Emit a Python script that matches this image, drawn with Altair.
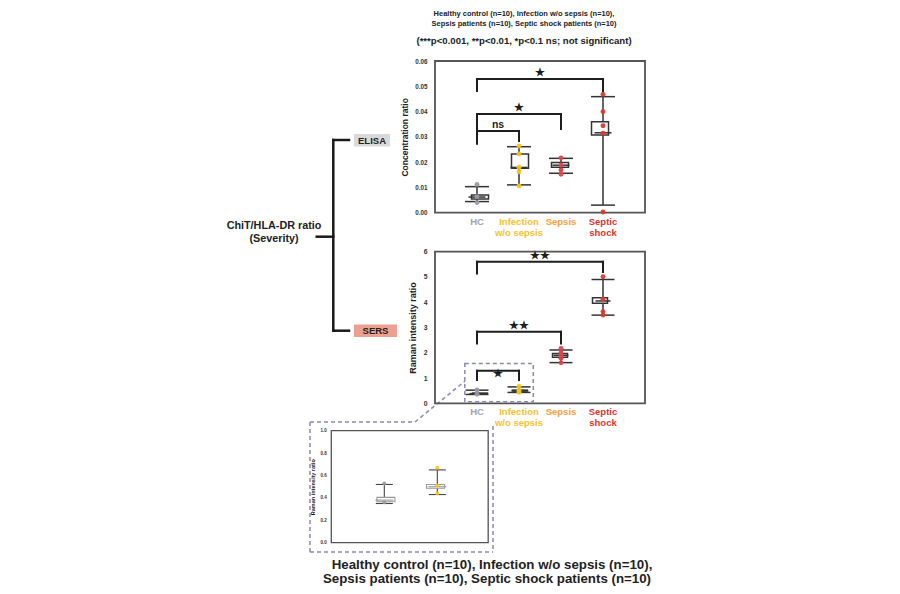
import altair as alt
import pandas as pd

FONT = "Liberation Sans"

# ---------------- data ----------------
groups = ["HC", "Infection w/o sepsis", "Sepsis", "Septic shock"]
group_lines = ["HC", "Infection\nw/o sepsis", "Sepsis", "Septic\nshock"]
label_colors = ["#a2a2aa", "#f6c22e", "#f3a03c", "#d5372f"]
point_colors = ["#9a9aa2", "#f7c21a", "#e0454c", "#d93a33"]

# ELISA: concentration ratio
elisa_low = [0.0044, 0.0110, 0.0156, 0.0030]
elisa_q1 = [0.0054, 0.0176, 0.0180, 0.0307]
elisa_med = [0.0062, 0.0179, 0.0188, 0.0316]
elisa_q3 = [0.0070, 0.0232, 0.0199, 0.0360]
elisa_high = [0.0103, 0.0261, 0.0215, 0.0459]
elisa_points = [
    [0.0112, 0.0063, 0.0040],
    [0.0264, 0.0232, 0.0180, 0.0162, 0.0106],
    [0.0217, 0.0189, 0.0169, 0.0152],
    [0.0468, 0.0399, 0.0344, 0.0314, 0.0003],
]
elisa_ticks = [0, 0.01, 0.02, 0.03, 0.04, 0.05, 0.06]
# (from group, to group, bracket top, left leg end, right leg end, label)
elisa_brackets = [
    (0, 3, 0.0529, 0.0481, 0.0480, "★"),
    (0, 2, 0.0390, 0.0274, 0.0331, "★"),
    (0, 1, 0.0323, 0.0274, 0.0284, "ns"),
]

# SERS: Raman intensity ratio
sers_low = [0.35, 0.43, 1.61, 3.49]
sers_q1 = [0.366, 0.486, 1.82, 3.96]
sers_med = [0.38, 0.50, 1.90, 4.05]
sers_q3 = [0.405, 0.52, 1.97, 4.18]
sers_high = [0.52, 0.65, 2.11, 4.90]
sers_points = [
    [0.53, 0.36],
    [0.67, 0.51, 0.44],
    [2.17, 2.00, 1.91, 1.78, 1.60],
    [5.01, 4.12, 3.63, 3.49],
]
sers_ticks = [0, 1, 2, 3, 4, 5, 6]
sers_brackets = [
    (0, 3, 5.60, 5.14, 5.20, "★★"),
    (0, 2, 2.83, 2.37, 2.37, "★★"),
    (0, 1, 1.29, 0.92, 0.92, "★"),
]
inset_ticks = [0, 0.2, 0.4, 0.6, 0.8, 1.0]
zoom_box = [-0.29, 1.34, 0.06, 1.58]  # x0, x1, y0, y1 in SERS data units

title_lines = [
    "Healthy control (n=10), Infection w/o sepsis (n=10),",
    "Sepsis patients (n=10), Septic shock patients (n=10)",
    "(***p<0.001, **p<0.01, *p<0.1 ns; not significant)",
]
tree_lines = ["ChiT/HLA-DR ratio", "(Severity)"]

dummy = pd.DataFrame({"k": [0]})


def px(v):
    return v - 8  # page pixel -> plot pixel


def seg(x1, y1, x2, y2, color="#1a1a1a", width=2.5, dash=None):
    kw = dict(color=color, strokeWidth=width, strokeCap="square")
    if dash:
        kw["strokeDash"] = dash
        kw["strokeCap"] = "butt"
    return alt.Chart(dummy).mark_rule(**kw).encode(
        x=alt.value(px(x1)), y=alt.value(px(y1)), x2=alt.value(px(x2)), y2=alt.value(px(y2))
    )


def txt(text, x, y, size, color="#222", weight="bold"):
    return alt.Chart(dummy).mark_text(
        text=text, x=px(x), y=px(y), fontSize=size, fontWeight=weight, font=FONT,
        color=color, align="center", baseline="middle"
    )


def patch(x1, y1, x2, y2, fill):
    return alt.Chart(dummy).mark_rect(color=fill).encode(
        x=alt.value(px(x1)), x2=alt.value(px(x2)), y=alt.value(px(y1)), y2=alt.value(px(y2))
    )


def panel(low, q1, med, q3, high, points, n, brackets, below, x_dom, x_rng, y_dom, y_rng,
          ticks, fmt, title, st, cat_labels=True, extra=None):
    xs = alt.Scale(domain=x_dom, range=[px(v) for v in x_rng])
    ys = alt.Scale(domain=y_dom, range=[px(v) for v in y_rng])

    def X(f):
        return alt.X(f"{f}:Q", scale=xs, axis=None)

    def Y(f):
        return alt.Y(f"{f}:Q", scale=ys, axis=None)

    idx = list(range(n))
    box = pd.DataFrame({"i": idx, "low": low[:n], "q1": q1[:n], "med": med[:n],
                        "q3": q3[:n], "high": high[:n]})
    caps = pd.DataFrame({"i": idx * 2, "v": list(low[:n]) + list(high[:n])})
    pts = pd.DataFrame([{"i": i, "v": v, "c": point_colors[i]} for i in idx for v in points[i]])
    frame_df = pd.DataFrame({"x0": [x_dom[0]], "x1": [x_dom[1]], "y0": [y_dom[0]], "y1": [y_dom[1]]})

    axis = alt.Axis(
        orient="left", offset=-px(x_rng[0]), values=ticks, format=fmt, title=title,
        labelFont=FONT, labelFontSize=st["lab"], labelFontWeight="bold", labelColor="#333",
        labelPadding=st["lpad"], titleFont=FONT, titleFontSize=st["tit"],
        titleFontWeight="bold", titleColor="#222", titlePadding=st["tpad"],
        ticks=False, domain=False, grid=False, labelOverlap=False,
    )
    layers = [
        alt.Chart(frame_df).mark_rect(fill="transparent", stroke=st["frame"],
                                      strokeWidth=st["fw"]).encode(
            x=X("x0"), x2="x1", y=alt.Y("y0:Q", scale=ys, axis=axis), y2="y1"),
        alt.Chart(box).mark_rule(color=st["line"], strokeWidth=st["lw"]).encode(
            x=X("i"), y=Y("low"), y2="high"),
        alt.Chart(caps).mark_tick(orient="horizontal", size=st["cap"], thickness=st["lw"],
                                  color=st["line"], opacity=1).encode(x=X("i"), y=Y("v")),
        alt.Chart(box).mark_bar(size=st["box"], fill="white", stroke=st["bstroke"],
                                strokeWidth=st["lw"]).encode(x=X("i"), y=Y("q1"), y2="q3"),
        alt.Chart(box).mark_tick(orient="horizontal", size=st["box"], thickness=st["lw"],
                                 color=st["bstroke"], opacity=1).encode(x=X("i"), y=Y("med")),
        alt.Chart(pts).mark_circle(size=st["pt"], opacity=0.95).encode(
            x=X("i"), y=Y("v"), color=alt.Color("c:N", scale=None)),
    ]
    if brackets:
        segs, labs = [], []
        for k, (a, b, top, le, re, lab) in enumerate(brackets):
            segs += [(a, b, top, top), (a, a, le, top), (b, b, re, top)]
            labs.append({"k": k, "x": (a + b) / 2, "y": top, "t": lab})
        seg_df = pd.DataFrame(segs, columns=["x0", "x1", "y0", "y1"])
        lab_df = pd.DataFrame(labs)
        layers.append(alt.Chart(seg_df).mark_rule(color="#1e1e1e", strokeWidth=2,
                                                  strokeCap="square").encode(
            x=X("x0"), x2="x1", y=Y("y0"), y2="y1"))
        layers.append(alt.Chart(lab_df).transform_filter(f"datum.k != {below}").mark_text(
            font=FONT, fontWeight="bold", fontSize=st["star"], color="#1e1e1e",
            baseline="alphabetic", dy=-3).encode(x=X("x"), y=Y("y"), text="t:N"))
        layers.append(alt.Chart(lab_df).transform_filter(f"datum.k == {below}").mark_text(
            font=FONT, fontWeight="bold", fontSize=st["star"], color="#1e1e1e",
            baseline="alphabetic", dy=6).encode(x=X("x"), y=Y("y"), text="t:N"))
    if cat_labels:
        cat = pd.DataFrame({"i": idx, "t": group_lines[:n], "c": label_colors[:n], "z": [0] * n})
        layers.append(alt.Chart(cat).mark_text(
            font=FONT, fontWeight="bold", fontSize=9.5, baseline="top", dy=4,
            lineBreak="\n", lineHeight=11).encode(
            x=X("i"), y=Y("z"), text="t:N", color=alt.Color("c:N", scale=None)))
    if extra is not None:
        zb = pd.DataFrame({"x0": [extra[0]], "x1": [extra[1]], "y0": [extra[2]], "y1": [extra[3]]})
        layers.append(alt.Chart(zb).mark_rect(fill="transparent", stroke="#8a8aae",
                                              strokeWidth=1.5, strokeDash=[4, 3]).encode(
            x=X("x0"), x2="x1", y=Y("y0"), y2="y1"))
    return layers


main_style = dict(lab=6.3, lpad=8, tit=8.5, tpad=5, frame="#555", fw=1.8, line="#333",
                  bstroke="#333", lw=1.5, cap=24, box=17, pt=24, star=10.5)
sers_style = dict(main_style, lab=6.8, tit=9, tpad=6, box=15, cap=23)
inset_style = dict(lab=4.5, lpad=5, tit=5.5, tpad=5, frame="#555", fw=1.3, line="#444",
                   bstroke="#999", lw=1.1, cap=17, box=18, pt=14, star=9)

elisa = panel(elisa_low, elisa_q1, elisa_med, elisa_q3, elisa_high, elisa_points, 4,
              elisa_brackets, -1, [-1, 4], [435, 645], [0, 0.06], [212.7, 61],
              elisa_ticks, ".2f", "Concentration ratio", main_style)
sers = panel(sers_low, sers_q1, sers_med, sers_q3, sers_high, sers_points, 4,
             sers_brackets, 2, [-1, 4], [435, 645], [0, 6], [403.3, 251.7],
             sers_ticks, "d", "Raman intensity ratio", sers_style, extra=zoom_box)
inset = panel(sers_low, sers_q1, sers_med, sers_q3, sers_high, sers_points, 2,
              None, -1, [-1, 1.96], [331.3, 488.2], [0, 1], [542.7, 430.7],
              inset_ticks, ".1f", "Raman intensity ratio", inset_style, cat_labels=False)

dash = [4, 3]
dcol = "#8a8aae"
decor = [
    # tree
    seg(316.7, 236.7, 333.3, 236.7),
    seg(333.3, 140, 333.3, 330.7),
    seg(333.3, 140, 349, 140),
    seg(333.3, 330.7, 349, 330.7),
    patch(354, 134, 390, 146.5, "#d9d9d9"),
    patch(354, 324.5, 397, 337, "#eda08f"),
    txt("ELISA", 372, 140.5, 9.5),
    txt("SERS", 375.5, 331, 9.5),
    txt(tree_lines[0], 274, 226, 10.8),
    txt(tree_lines[1], 274, 239, 10.8),
    # titles
    txt(title_lines[0], 524, 14, 7.5),
    txt(title_lines[1], 524, 24, 7.5),
    txt(title_lines[2], 524, 41, 9.6),
    txt(title_lines[0], 492, 565, 13.3),
    txt(title_lines[1], 487, 579, 13.3),
    # dashed inset outline and connector
    seg(310, 422, 310, 552, dcol, 1.5, dash),
    seg(310, 552, 493, 552, dcol, 1.5, dash),
    seg(493, 426, 493, 552, dcol, 1.5, dash),
    seg(310, 422, 415, 422, dcol, 1.5, dash),
    seg(415, 422, 465, 381, dcol, 1.5, dash),
]

chart = alt.layer(*decor, *elisa, *sers, *inset).resolve_scale(
    x="independent", y="independent"
).properties(
    width=884, height=578, autosize=alt.AutoSizeParams(type="none"), padding=0
).configure_view(stroke=None)

chart.save("out.html", embed_options={"renderer": "svg", "actions": False})
